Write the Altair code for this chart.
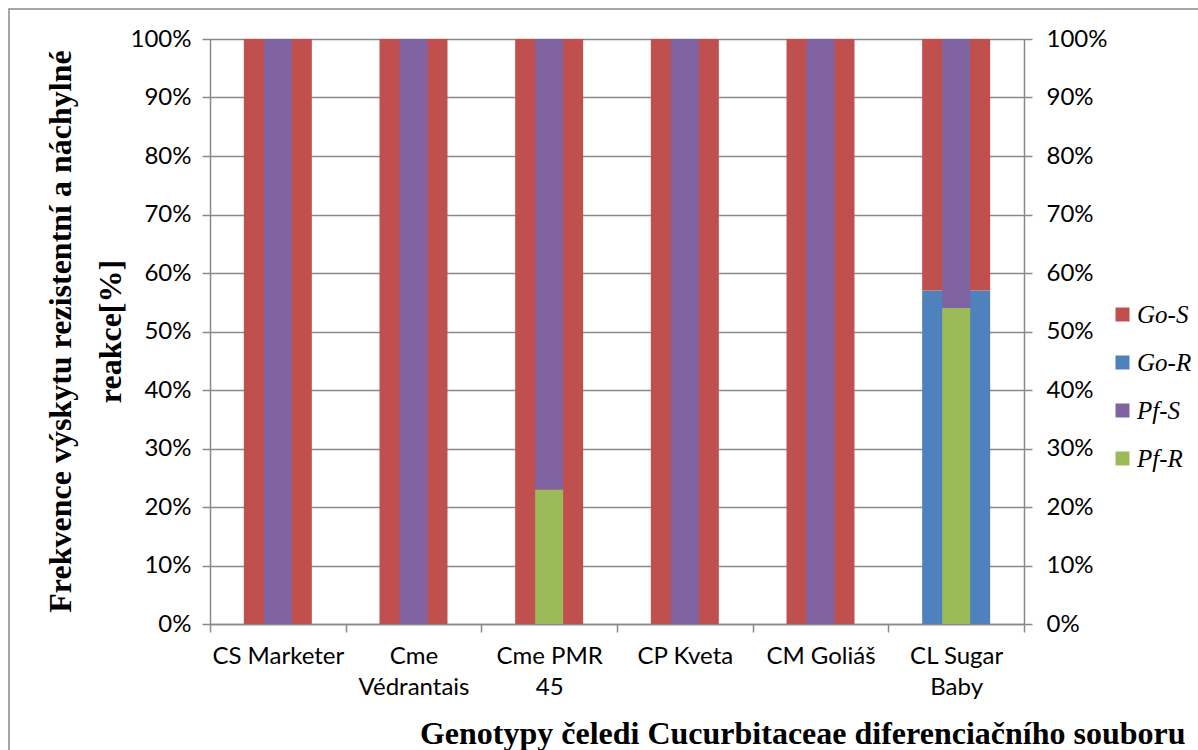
import altair as alt
import pandas as pd

categories = ["CS Marketer", "Cme Védrantais", "Cme PMR 45", "CP Kveta", "CM Goliáš", "CL Sugar Baby"]
label_lines = {
    "Cme Védrantais": ["Cme", "Védrantais"],
    "Cme PMR 45": ["Cme PMR", "45"],
    "CL Sugar Baby": ["CL Sugar", "Baby"],
}
series_names = ["Go-S", "Go-R", "Pf-S", "Pf-R"]
series_colors = ["#C0504D", "#4F81BD", "#8064A2", "#9BBB59"]

go_s = [1.00, 1.00, 1.00, 1.00, 1.00, 0.43]
go_r = [0.00, 0.00, 0.00, 0.00, 0.00, 0.57]
pf_s = [1.00, 1.00, 0.77, 1.00, 1.00, 0.46]
pf_r = [0.00, 0.00, 0.23, 0.00, 0.00, 0.54]

y_title = ["Frekvence výskytu rezistentní a náchylné", "reakce[%]"]
x_title = "Genotypy čeledi Cucurbitaceae diferenciačního souboru"

rows = []
for i, c in enumerate(categories):
    rows.append({"cat": c, "series": "Go-R", "group": "Go", "ord": 0, "v": go_r[i]})
    rows.append({"cat": c, "series": "Go-S", "group": "Go", "ord": 1, "v": go_s[i]})
    rows.append({"cat": c, "series": "Pf-R", "group": "Pf", "ord": 0, "v": pf_r[i]})
    rows.append({"cat": c, "series": "Pf-S", "group": "Pf", "ord": 1, "v": pf_s[i]})
df = pd.DataFrame(rows)

label_expr = ""
for k, lines in label_lines.items():
    arr = "[" + ",".join("'" + s + "'" for s in lines) + "]"
    label_expr += f"datum.value == '{k}' ? {arr} : "
label_expr += "datum.value"

GRAY = "#898989"
TICK_FONT = "Lato"
TICK_SIZE = 24

color = alt.Color(
    "series:N",
    scale=alt.Scale(domain=series_names, range=series_colors),
    legend=alt.Legend(
        title=None, orient="none", legendX=900, legendY=263,
        symbolType="square", symbolSize=196, symbolStrokeWidth=0, symbolOpacity=1,
        labelFont="Liberation Serif", labelFontStyle="italic", labelFontSize=25,
        labelColor="black", labelOffset=2, rowPadding=22, padding=0,
    ),
)

x_enc = alt.X(
    "cat:N", sort=categories, scale=alt.Scale(paddingInner=0, paddingOuter=0),
    axis=alt.Axis(
        title=x_title, labelExpr=label_expr, labelAngle=0, labelFont=TICK_FONT,
        labelFontSize=TICK_SIZE, labelColor="black", labelLineHeight=31, labelPadding=12,
        tickBand="extent", tickSize=8, tickColor=GRAY, domainColor=GRAY, tickWidth=1.5,
        domainWidth=1.5,
        titleFont="Liberation Serif", titleFontWeight="bold", titleFontSize=32,
        titleColor="black", titleAlign="right", titleBaseline="middle",
        titleX=975, titleY=109,
    ),
)

y_scale = alt.Scale(domain=[0, 1], nice=False)

go = alt.Chart(df).transform_filter(alt.datum.group == "Go").mark_bar(size=68).encode(
    x=x_enc,
    y=alt.Y("sum(v):Q", scale=y_scale, stack="zero",
            axis=alt.Axis(
                orient="left", format="%", values=[i / 10 for i in range(11)],
                labelFont=TICK_FONT, labelFontSize=TICK_SIZE, labelColor="black", labelPadding=11,
                tickSize=8, tickColor=GRAY, tickWidth=1.5, domainColor=GRAY, domainWidth=1.5,
                grid=True, gridColor=GRAY, gridWidth=1.5,
                title=y_title, titleFont="Liberation Serif", titleFontWeight="bold",
                titleFontSize=32, titleColor="black", titleLineHeight=50,
                titleAngle=270, titleAlign="center", titleBaseline="middle",
                titleX=-150, titleY=292,
            )),
    color=color,
    order=alt.Order("ord:Q"),
)

pf = alt.Chart(df).transform_filter(alt.datum.group == "Pf").mark_bar(size=28).encode(
    x=x_enc,
    y=alt.Y("sum(v):Q", scale=y_scale, stack="zero",
            axis=alt.Axis(
                orient="right", format="%", values=[i / 10 for i in range(11)],
                labelFont=TICK_FONT, labelFontSize=TICK_SIZE, labelColor="black", labelPadding=14,
                tickSize=8, tickColor=GRAY, tickWidth=1.5, domainColor=GRAY, domainWidth=1.5,
                grid=False, title=None,
            )),
    color=color,
    order=alt.Order("ord:Q"),
)

frame = alt.Chart(pd.DataFrame({"f": [0]})).mark_rect(
    fill="transparent", stroke=GRAY, strokeWidth=1.5
).encode(
    x=alt.value(-201), x2=alt.value(1000), y=alt.value(-30), y2=alt.value(760),
)

chart = alt.layer(frame, go, pf).resolve_axis(y="independent").properties(
    width=814, height=585,
    autosize=alt.AutoSizeParams(type="none"),
    padding={"left": 210, "top": 39, "right": 174, "bottom": 126},
    background="white",
).configure_view(stroke=None)

chart.save("out.html", embed_options={"renderer": "svg", "actions": False})
